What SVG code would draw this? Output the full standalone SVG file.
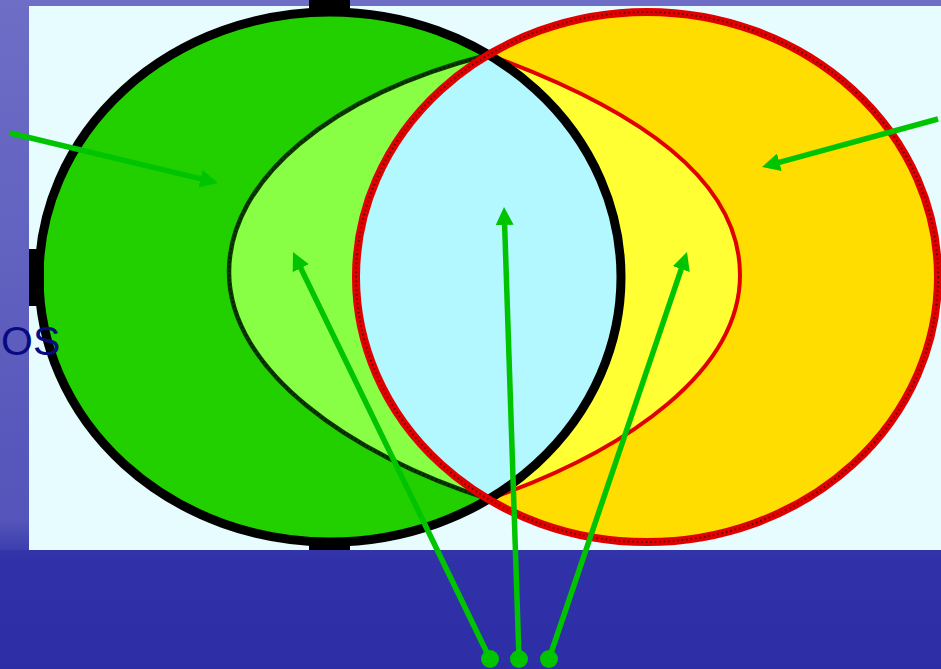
<svg xmlns="http://www.w3.org/2000/svg" width="941" height="669" viewBox="0 0 941 669">
<defs>
<linearGradient id="bg" x1="0" y1="0" x2="0" y2="1">
<stop offset="0" stop-color="#6e6ec6"/>
<stop offset="0.78" stop-color="#5454ba"/>
<stop offset="0.84" stop-color="#3434aa"/>
<stop offset="1" stop-color="#2c2ca6"/>
</linearGradient>
<marker id="ah" markerUnits="userSpaceOnUse" markerWidth="20" markerHeight="18" refX="4" refY="9" orient="auto">
<path d="M0,0 L18,9 L0,18 Z" fill="#00c400"/>
</marker>
</defs>
<style>
.arrow{stroke:#00c400;stroke-width:5.5;fill:none;marker-end:url(#ah)}
.dot{fill:#00c400}
.outerBlack{fill:none;stroke:#000;stroke-width:9}
.outerRed{fill:none;stroke:#e00000;stroke-width:8}
.speck{fill:none;stroke:#000;stroke-width:2;stroke-dasharray:1.5 3;opacity:0.55}
.label{font-family:"Liberation Sans",Arial,sans-serif;font-size:41px;fill:#0a0a80}
</style>
<rect x="0" y="0" width="941" height="669" fill="url(#bg)"/>
<rect x="0" y="550" width="941" height="119" fill="#2e2ea7" opacity="0.6"/>
<rect x="29" y="6" width="912" height="544" fill="#e6fcff"/>

<g id="circle-green">
<ellipse cx="330" cy="277" rx="291" ry="265" fill="#22d000"/>
</g>
<g id="circle-yellow">
<ellipse cx="647" cy="277" rx="291" ry="265" fill="#ffdd00"/>
</g>
<g id="region-lightgreen">
<path d="M488.5 54.8 C330 95 229 180 229 272 C229 370 350 455 488.5 499.2 A291 265 0 0 1 488.5 54.8 Z" fill="#88ff44"/>
</g>
<g id="region-lightyellow">
<path d="M488.5 54.8 C640 110 740 180 740 275 C740 370 630 450 488.5 499.2 A291 265 0 0 0 488.5 54.8 Z" fill="#ffff33"/>
</g>
<g id="region-lens">
<path d="M488.5 54.8 A291 265 0 0 1 488.5 499.2 A291 265 0 0 1 488.5 54.8 Z" fill="#b3f7ff"/>
</g>
<g id="outlines">
<path d="M488.5 54.8 C330 95 229 180 229 272 C229 370 350 455 488.5 499.2" fill="none" stroke="#0a3a00" stroke-width="4.5"/>
<path d="M488.5 54.8 C330 95 229 180 229 272 C229 370 350 455 488.5 499.2" class="speck"/>
<path d="M488.5 54.8 C640 110 740 180 740 275 C740 370 630 450 488.5 499.2" fill="none" stroke="#e00000" stroke-width="4"/>
<ellipse cx="330" cy="277" rx="291" ry="265" class="outerBlack"/>
<rect x="29" y="249" width="15" height="57" fill="#000"/>
<rect x="309" y="0" width="41" height="14" fill="#000"/>
<rect x="309" y="540" width="41" height="10" fill="#000"/>
<ellipse cx="647" cy="277" rx="291" ry="265" class="outerRed"/>
<ellipse cx="647" cy="277" rx="291" ry="265" class="speck"/>
</g>

<text class="label" x="1" y="355">OS</text>

<g id="connectors">
<line class="arrow" x1="10" y1="133" x2="204.4" y2="179.7"/>
<line class="arrow" x1="938" y1="119" x2="775.5" y2="163.3"/>
<line class="arrow" x1="490" y1="659" x2="299.1" y2="264.6"/>
<line class="arrow" x1="519" y1="659" x2="504.5" y2="221"/>
<line class="arrow" x1="549" y1="659" x2="682.5" y2="265.3"/>
<circle class="dot" cx="490" cy="659" r="9"/>
<circle class="dot" cx="519" cy="659" r="9"/>
<circle class="dot" cx="549" cy="659" r="9"/>
</g>
</svg>
